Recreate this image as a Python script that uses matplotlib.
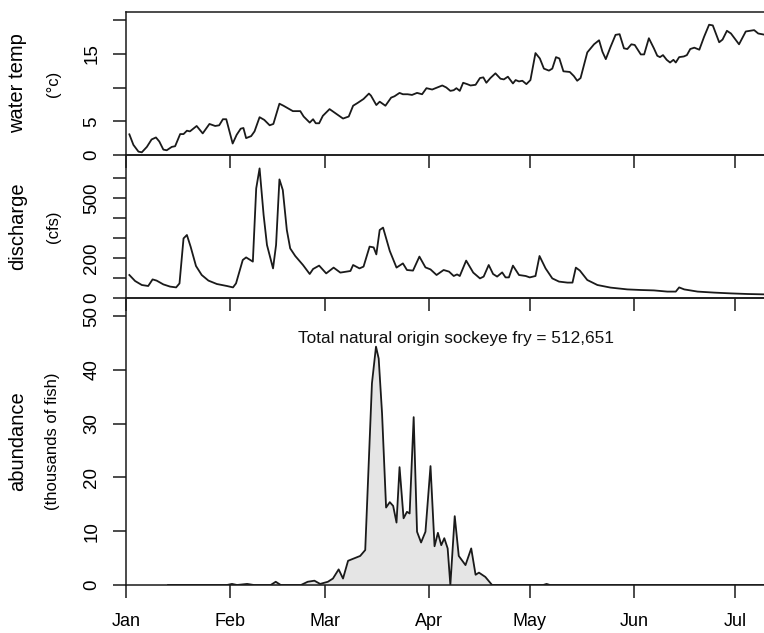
import matplotlib
matplotlib.use("Agg")
import matplotlib.pyplot as plt

plt.rcParams['font.family'] = ['Liberation Sans', 'DejaVu Sans']

# ---- data (day of year, Jan 1 = 0) ----
month_days = [0, 31, 59, 90, 120, 151, 181]
month_labels = ['Jan', 'Feb', 'Mar', 'Apr', 'May', 'Jun', 'Jul']

temp_day = [1, 2.2, 3.7, 4.7, 6.2, 7.6, 8.9, 9.9, 11.1, 12.1, 13.6, 14.6, 16.1, 17.1, 18.1, 19,
            21, 22.8, 24.8, 26.5, 27.7, 28.8, 29.8, 31.7, 32.9, 34.1, 34.9, 35.7, 37.2, 38.2,
            39.7, 41.1, 42.7, 43.8, 45.6, 46.8, 49.6, 51.8, 52.8, 54.6, 55.6, 56.4, 57.4, 58.5,
            60.5, 62.5, 64.5, 66.2, 67.5, 68.8, 70.6, 72.2, 72.8, 74.4, 75.4, 77.1, 78.8, 79.8,
            81.3, 82.3, 83.7, 85, 86.5, 88, 89.3, 91, 92.5, 94, 95.2, 96.4, 97.4, 98.2, 99.2,
            100.2, 101.4, 102.4, 103.9, 105.2, 106.2, 107.1, 108.3, 109.8, 111.3, 112.3, 113.5,
            115, 115.8, 116.8, 117.8, 119, 120.2, 121.7, 123, 124.2, 125.7, 126.7, 127.8, 128.8,
            130, 131.9, 133.1, 134.1, 135.1, 137.1, 139.1, 140.6, 141.6, 142.6, 144, 145.5, 146.7,
            148, 149, 150.2, 151.2, 153, 154, 155.4, 156.9, 157.9, 158.7, 159.6, 160.7, 161.7,
            162.7, 163.4, 164.4, 165.8, 166.7, 167.7, 168.9, 170.4, 171.8, 173.3, 174.4, 176.3,
            177.3, 178.6, 179.8, 182.2, 184.2, 186.7, 187.9, 190]
temp_c = [3.06, 1.5, 0.5, 0.4, 1.2, 2.3, 2.6, 2.0, 0.8, 0.7, 1.2, 1.3, 3.1, 3.1, 3.6, 3.5,
          4.3, 3.2, 4.6, 4.3, 4.4, 5.3, 5.3, 1.7, 3.0, 3.9, 4.0, 2.5, 2.8, 3.5,
          5.6, 5.2, 4.4, 4.6, 7.6, 7.3, 6.5, 6.5, 5.7, 4.8, 5.3, 4.7, 4.7, 5.8,
          6.8, 6.1, 5.4, 5.7, 7.3, 7.7, 8.3, 9.1, 8.8, 7.4, 7.9, 7.3, 8.5, 8.7,
          9.2, 9.0, 9.0, 8.9, 9.2, 9.0, 9.9, 9.7, 10.0, 10.3, 10.0, 9.5, 9.6, 9.9, 9.5,
          10.7, 10.5, 10.3, 10.4, 11.4, 11.5, 10.7, 11.4, 12.1, 11.3, 11.2, 11.6,
          10.6, 11.1, 10.9, 11.0, 10.5, 11.1, 15.1, 14.3, 12.8, 12.5, 12.8, 14.5, 14.3,
          12.4, 12.3, 11.7, 11.0, 11.4, 15.2, 16.4, 17.0, 15.3, 14.2, 16.0, 17.8, 17.9,
          15.8, 15.7, 16.4, 16.3, 14.9, 14.9, 17.3, 15.8, 14.7, 14.5, 14.8, 14.1, 13.7,
          14.1, 13.7, 14.5, 14.6, 14.8, 15.7, 15.9, 15.6, 17.5, 19.3, 19.2, 16.7,
          17.1, 18.4, 18.0, 16.4, 18.3, 18.5, 18.0, 17.8]

flow_day = [1, 2.7, 4.7, 6.6, 7.9, 9.1, 11.1, 13.1, 14.9, 15.9, 17.1, 18.1, 19.2, 20.8, 22.5,
            24.5, 27, 30, 31.8, 32.7, 34.7, 35.7, 37.7, 38.7, 39.7, 40.9, 41.9, 43.7, 44.6,
            45.6, 46.6, 47.8, 48.8, 50.3, 52.6, 54.6, 55.6, 57.4, 59.5, 61.7, 63.7, 66.7, 67.5,
            69.4, 70.6, 72.4, 73.6, 74.4, 75.4, 76.4, 78.4, 80.4, 82.3, 83.5, 85.3, 87.2, 89,
            90.5, 92.3, 94.4, 96, 97.4, 98.4, 99.2, 101.1, 103.2, 105.2, 106.3, 107.8, 109.1,
            110.3, 111.8, 112.8, 113.8, 115, 116.8, 118.8, 120, 121.7, 122.9, 124.7, 126.7,
            128.7, 131.2, 132.7, 133.7, 134.9, 137.1, 140.1, 144, 149, 153, 156.9, 160.9, 163.4,
            164.4, 165.9, 169.9, 174.8, 179.8, 184.7, 190]
flow_cfs = [115, 85, 65, 60, 93, 87, 68, 57, 53, 73, 298, 315, 257, 160, 115,
            87, 70, 60, 53, 73, 190, 203, 182, 548, 648, 415, 265, 148, 265,
            593, 540, 340, 248, 210, 165, 120, 145, 162, 123, 152, 127, 135, 165,
            148, 157, 257, 253, 218, 340, 352, 235, 152, 173, 140, 137, 207, 153,
            143, 115, 140, 132, 110, 118, 110, 187, 127, 98, 107, 165, 120,
            107, 128, 103, 103, 162, 115, 110, 103, 110, 210, 148, 98,
            82, 77, 77, 152, 137, 90, 65, 52, 43, 40, 38, 32, 32,
            53, 43, 32, 27, 23, 20, 18]

fry_day = [12.5, 30, 31.5, 33, 36, 38, 43, 44.5, 46, 52, 54, 56, 57.7, 60, 61.5, 63.2, 64.5,
           66, 69.6, 71.1, 73.1, 74.3, 75.1, 76.1, 77.3, 78.4, 79.4, 80.4, 81.3, 82.5, 83.5,
           84.3, 85.5, 86.5, 87.7, 89, 90.5, 91.7, 92.7, 93.7, 94.6, 95.6, 96.4, 97.7, 98.9,
           100.9, 102.6, 103.9, 104.9, 106.8, 108.8, 124, 125, 126, 190]
fry_thousands = [0, 0, 0.2, 0, 0.2, 0, 0, 0.6, 0, 0, 0.6, 0.8, 0.2, 0.6, 1.2, 2.9, 1.2,
                 4.5, 5.4, 6.5, 37.5, 44.3, 42.1, 31.9, 14.4, 15.4, 14.7, 11.6, 21.9, 12.4, 13.6,
                 13.3, 31.2, 9.9, 7.9, 9.9, 22.1, 7.2, 9.7, 7.4, 8.7, 6.8, 0, 12.8, 5.4,
                 3.7, 6.8, 1.9, 2.3, 1.5, 0, 0, 0.2, 0, 0]

total_text = 'Total natural origin sockeye fry = 512,651'

# ---- layout ----
W, H = 764, 633
fig = plt.figure(figsize=(W / 100, H / 100), dpi=100)
left = 126 / W
width = (782 - 126) / W
px_per_day = (735 - 126) / 181.0
xmax = (782 - 126) / px_per_day

ax1 = fig.add_axes([left, 1 - 155 / H, width, (155 - 12) / H])
ax2 = fig.add_axes([left, 1 - 298 / H, width, (298 - 155) / H])
ax3 = fig.add_axes([left, 1 - 585 / H, width, (585 - 298) / H])

lc = '#1a1a1a'
lw = 1.3

ax1.plot(temp_day, temp_c, color=lc, lw=lw)
ax1.set_ylim(0, (155 - 12) / 6.75)
ax1.set_yticks([0, 5, 10, 15, 20])
ax1.set_yticklabels(['0', '5', '', '15', ''])

ax2.plot(flow_day, flow_cfs, color=lc, lw=lw)
ax2.set_ylim(0, (298 - 155) / 20 * 100)
ax2.set_yticks([0, 100, 200, 300, 400, 500, 600])
ax2.set_yticklabels(['0', '', '200', '', '', '500', ''])

ax3.fill_between(fry_day, fry_thousands, 0, color='#e5e5e5', lw=0)
ax3.plot(fry_day, fry_thousands, color=lc, lw=lw)
ax3.set_ylim(0, (585 - 298) / 5.38)
ax3.set_yticks([0, 10, 20, 30, 40, 50])
ax3.text(98.1, 45.9, total_text, ha='center', va='center', fontsize=12.4, color='#111111')

for ax in (ax1, ax2, ax3):
    ax.set_facecolor('none')
    ax.set_xlim(0, xmax)
    ax.set_xticks(month_days)
    for s in ax.spines.values():
        s.set_linewidth(1.1)
        s.set_color(lc)
    ax.tick_params(axis='both', direction='out', length=9.5, width=1.1, color=lc)
    ax.tick_params(axis='y', labelsize=13.5, pad=9)
    for lab in ax.get_yticklabels():
        lab.set_rotation(90)
        lab.set_va('center')
    if ax is ax3:
        ax.set_xticklabels(month_labels)
        ax.tick_params(axis='x', labelsize=13, pad=11)
    else:
        ax.tick_params(axis='x', labelbottom=False)

def ylabels(ytop, ybot, main, sub):
    yc = 1 - (ytop + ybot) / 2 / H
    fig.text(18 / W, yc, main, rotation=90, ha='center', va='center', fontsize=14.5)
    fig.text(53 / W, yc, sub, rotation=90, ha='center', va='center', fontsize=12)

ylabels(12, 155, 'water temp', '(°c)')
ylabels(155, 298, 'discharge', '(cfs)')
ylabels(298, 585, 'abundance', '(thousands of fish)')

fig.savefig('out.png', dpi=100)
